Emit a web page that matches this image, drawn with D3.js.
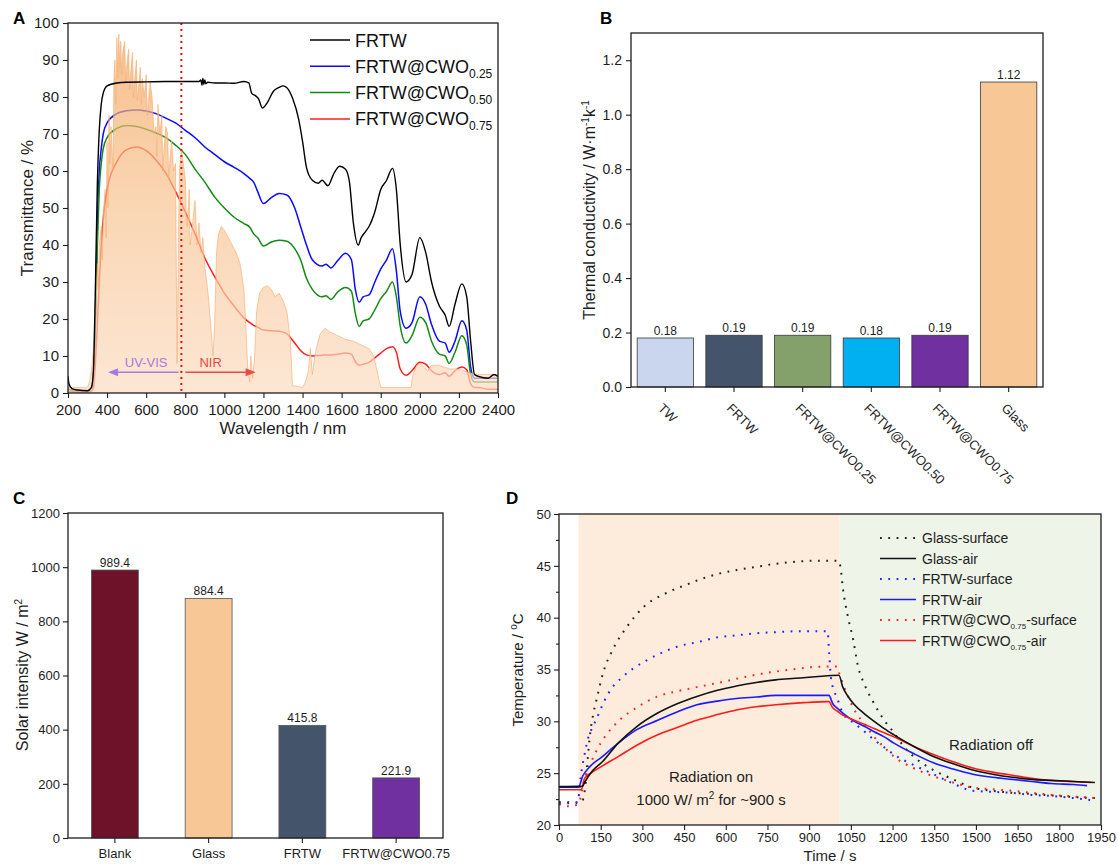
<!DOCTYPE html>
<html><head><meta charset="utf-8">
<script src="https://cdn.jsdelivr.net/npm/d3@7"></script>
<style>body{margin:0;background:#fff} svg{font-family:"Liberation Sans",Arial,Helvetica,sans-serif}</style>
</head><body><svg id="c" width="1118" height="864"></svg>
<script>
// ---------------- DATA ----------------
// Panel A: transmittance spectra [wavelength nm, T %]
const frtw = [[200,4.5],[205,2.5],[220,1.2],[250,0.8],[300,0.6],[320,1.5],[330,6],[340,28],[350,56],[360,71],[370,78],[380,81],[400,83],[450,83.8],[500,84],[600,84.1],[700,84.2],[800,84.2],[870,84.2],[880,84.6],[885,83.2],[890,85],[895,83.4],[900,84.6],[905,83.6],[915,84],[950,83.8],[1000,83.8],[1050,83.7],[1100,84.2],[1125,83.8],[1140,81],[1160,80.3],[1175,79.5],[1195,77],[1220,78.5],[1250,81.5],[1280,82.6],[1300,83],[1320,82.5],[1350,79.5],[1380,74],[1400,68],[1420,61],[1450,57.5],[1480,56.7],[1500,57.5],[1530,56],[1560,59.3],[1590,61.3],[1620,60.5],[1640,57],[1660,46],[1685,40],[1700,42],[1720,43.5],[1740,45],[1770,49],[1800,55],[1830,57.5],[1860,60.7],[1880,55],[1900,40],[1930,30],[1960,32],[2000,42],[2030,38],[2060,30],[2100,23.5],[2130,21],[2150,18],[2180,24],[2215,29.5],[2240,26],[2260,14],[2280,5],[2300,4.5],[2350,4],[2380,5],[2400,4.5]];
const cwo025 = [[200,1],[250,0.5],[300,0.5],[320,1.5],[330,5],[340,20],[350,45],[360,60],[370,66],[380,70],[400,73],[450,75.5],[500,76.3],[550,76.5],[600,76.2],[650,75.5],[700,74.3],[750,73],[800,71],[850,69],[900,66.5],[950,64.5],[1000,62.5],[1050,61],[1100,59.3],[1130,58],[1150,57],[1170,54.5],[1200,51.2],[1240,52.8],[1280,53.9],[1320,53.5],[1360,50],[1390,45],[1420,40],[1450,36],[1500,34.3],[1520,34.8],[1545,33.8],[1580,35.8],[1620,37.8],[1650,36],[1670,28],[1690,24.5],[1710,26],[1740,26.5],[1770,30],[1800,33.5],[1830,36],[1860,39],[1880,33],[1900,22],[1930,17.5],[1960,19],[2000,26],[2030,24],[2060,18.5],[2100,14],[2130,13.5],[2150,11],[2180,14],[2215,19.5],[2240,17],[2260,7],[2280,4],[2300,4],[2350,4],[2400,4]];
const cwo050 = [[200,1],[250,0.5],[300,0.5],[320,1.5],[330,5],[340,18],[350,40],[360,55],[370,62],[380,66],[400,69],[450,71.5],[500,72.3],[550,72],[600,71.3],[650,70.3],[700,69],[750,67],[800,64.5],[850,60.5],[900,57],[950,53],[1000,50],[1050,47.5],[1100,45.8],[1130,44.8],[1150,43],[1170,42],[1200,39.7],[1240,40.8],[1280,41.3],[1320,41],[1360,39],[1390,36],[1420,31],[1450,28],[1500,26],[1520,26.3],[1545,25.3],[1580,27.3],[1620,28.5],[1650,27.5],[1670,21.5],[1690,18],[1710,19.5],[1740,20],[1770,22.5],[1800,25.5],[1830,27.5],[1860,30],[1880,26],[1900,18],[1930,13.5],[1960,15.5],[2000,20.5],[2030,19],[2060,14],[2100,10.5],[2130,10],[2150,8],[2180,11],[2215,15.5],[2240,13],[2260,5],[2280,3],[2300,3],[2350,3],[2400,3]];
const cwo075 = [[200,0.5],[250,0.3],[300,0.3],[320,0.5],[330,1.5],[340,8],[350,18],[360,30],[370,40],[380,47],[400,55],[450,62.5],[500,65.8],[550,66.5],[600,65.5],[650,63],[700,59.5],[750,54.5],[800,49],[850,43],[900,36.5],[950,31.5],[1000,27],[1050,23.5],[1100,20.3],[1130,19],[1150,18.3],[1170,17.8],[1200,17],[1240,16.8],[1280,16.7],[1320,16],[1360,13.5],[1390,11.5],[1420,10.3],[1450,10],[1500,10.2],[1520,10.3],[1545,10.3],[1580,10.5],[1620,10.8],[1650,10.5],[1670,8.5],[1690,7.5],[1710,7.8],[1740,8.3],[1770,9.5],[1800,10.8],[1830,12],[1860,12.5],[1880,11],[1900,6.5],[1930,4.8],[1960,6],[2000,8.3],[2030,7.8],[2060,6],[2100,5],[2130,5.5],[2150,4.5],[2180,6],[2215,7],[2240,6.3],[2260,2.5],[2280,1.5],[2300,1.5],[2350,1],[2400,1]];
// Solar spectrum (scaled) [wavelength nm, value]
const solar = [[200,1.5],[290,1.5],[300,1.7],[310,3],[320,6],[330,12],[340,25],[350,35],[355,28],[360,40],[370,45],[375,36],[380,48],[390,55],[395,42],[400,68],[405,50],[410,75],[415,62],[420,72],[430,60],[435,85],[440,90],[445,78],[450,96],[455,85],[460,97],[465,88],[470,95],[475,86],[480,92],[490,95],[495,84],[500,88],[510,93],[515,82],[520,86],[530,92],[535,80],[540,84],[550,90],[555,79],[560,82],[570,88],[575,78],[580,85],[590,80],[600,86],[605,75],[610,78],[620,84],[630,80],[640,70],[650,72],[655,64],[660,78],[670,70],[680,75],[685,60],[690,65],[700,72],[710,70],[715,58],[720,62],[730,68],[740,60],[750,62],[758,8],[765,40],[770,60],[780,66],[790,62],[800,58],[805,48],[810,45],[820,55],[825,40],[830,42],[850,52],[860,40],[870,46],[880,38],[890,42],[900,34],[910,30],[920,25],[935,15],[942,10],[950,18],[960,38],[970,43],[985,45],[1000,44],[1020,42],[1040,40],[1060,38],[1080,35],[1100,28],[1110,18],[1120,6],[1130,3],[1135,10],[1145,4],[1155,10],[1165,22],[1180,27],[1200,28.5],[1220,29],[1240,28],[1260,26],[1280,27],[1300,25],[1320,22],[1338,14],[1348,2],[1400,1.5],[1415,3],[1430,6],[1440,12],[1450,5],[1460,9],[1470,12],[1490,16],[1515,17.5],[1540,16.5],[1580,15.5],[1620,14.5],[1660,14],[1700,13],[1740,12],[1765,10],[1785,5],[1800,1.5],[1955,1.5],[1965,5],[1985,7.5],[2000,8],[2020,7],[2040,6],[2060,7.5],[2100,7.5],[2150,6.5],[2200,6.5],[2250,5.5],[2300,5],[2400,5]];
const legendA = [["FRTW",""],["FRTW@CWO","0.25"],["FRTW@CWO","0.50"],["FRTW@CWO","0.75"]];
const xTicksA = [200,400,600,800,1000,1200,1400,1600,1800,2000,2200,2400];
const yTicksA = [0,10,20,30,40,50,60,70,80,90,100];
const uvVisBoundary = 780;

// Panel B: thermal conductivity
const bCats = ["TW","FRTW","FRTW@CWO0.25","FRTW@CWO0.50","FRTW@CWO0.75","Glass"];
const bVals = [0.18,0.19,0.19,0.18,0.19,1.12];
const yTicksB = [0.0,0.2,0.4,0.6,0.8,1.0,1.2];

// Panel C: solar intensity
const cCats = ["Blank","Glass","FRTW","FRTW@CWO0.75"];
const cVals = [989.4,884.4,415.8,221.9];
const yTicksC = [0,200,400,600,800,1000,1200];

// Panel D: temperature vs time [s, °C]
const glassSurface = [[0,22.2],[60,22.2],[80,22.2],[88,22.6],[94,23.6],[103,26.3],[112,28.8],[124,30.8],[136,32.2],[159,34.7],[195,37],[244,39.1],[303,41],[388,42.4],[460,43.2],[508,43.7],[569,44.2],[640,44.6],[710,44.9],[780,45.2],[853,45.4],[930,45.5],[1005,45.5],[1012,45],[1022,42.7],[1037,40.4],[1059,37.8],[1075,35.4],[1100,33.5],[1134,31.7],[1170,30.1],[1205,28.9],[1240,27.6],[1276,26.6],[1310,25.9],[1347,25.3],[1418,24.4],[1489,23.6],[1560,23.3],[1631,23.1],[1700,23],[1772,22.85],[1850,22.7],[1928,22.6]];
const glassAir = [[0,23.7],[85,23.75],[92,24.1],[120,25.2],[156,26.1],[213,27.9],[280,29.5],[355,30.8],[425,31.7],[496,32.4],[570,33],[638,33.4],[710,33.75],[780,34],[850,34.15],[922,34.3],[1007,34.45],[1021,33.3],[1040,32.4],[1063,31.6],[1100,30.7],[1134,30],[1170,29.3],[1205,28.7],[1275,27.6],[1347,26.6],[1418,25.9],[1489,25.3],[1560,24.9],[1631,24.6],[1700,24.4],[1772,24.3],[1850,24.2],[1928,24.1]];
const frtwSurface = [[0,22.1],[60,22.1],[70,22.6],[78,24.6],[92,26.8],[105,28.4],[120,29.4],[136,30.3],[160,31.8],[190,33.2],[230,34.3],[267,35.1],[310,35.8],[352,36.4],[425,37.2],[508,37.7],[570,38.1],[640,38.3],[710,38.5],[782,38.6],[870,38.7],[966,38.7],[972,36.5],[978,34.3],[985,33.3],[1000,32.3],[1021,30.8],[1063,29.8],[1100,29],[1134,28.2],[1170,27.5],[1205,26.8],[1275,25.8],[1347,24.9],[1418,24],[1489,23.3],[1560,23.2],[1631,23.1],[1700,22.9],[1772,22.8],[1850,22.6],[1914,22.4]];
const frtwAir = [[0,23.65],[70,23.65],[85,24.7],[110,25.6],[156,26.6],[213,27.9],[280,29.2],[355,30.1],[425,30.9],[496,31.6],[570,31.95],[638,32.2],[710,32.35],[780,32.5],[880,32.5],[971,32.5],[985,31.7],[1000,31.3],[1021,30.8],[1063,30],[1100,29.5],[1134,29],[1170,28.5],[1205,27.9],[1275,26.9],[1347,26],[1418,25.4],[1489,24.9],[1560,24.6],[1631,24.4],[1700,24.2],[1772,24],[1850,23.9],[1900,23.8]];
const cwoSurface = [[0,22.0],[30,21.8],[60,21.9],[71,22.1],[92,24.4],[110,25.7],[128,26.8],[150,27.9],[170,28.7],[213,30],[284,31.4],[355,32.4],[425,32.9],[496,33.3],[570,33.7],[638,34.1],[710,34.5],[780,34.8],[850,35.05],[922,35.25],[1000,35.3],[1010,34.5],[1035,32.7],[1063,31.1],[1100,29.7],[1134,28.5],[1170,27.5],[1205,26.6],[1275,25.5],[1347,24.7],[1418,24.1],[1489,23.6],[1560,23.45],[1631,23.3],[1700,23.1],[1772,22.9],[1850,22.75],[1930,22.6]];
const cwoAir = [[0,23.4],[80,23.4],[92,24.5],[120,25.1],[156,25.7],[213,26.6],[280,27.7],[355,28.7],[425,29.4],[496,30.1],[570,30.65],[638,31.1],[710,31.4],[780,31.6],[880,31.8],[971,31.9],[985,31.3],[1000,31],[1021,30.6],[1063,30.1],[1100,29.7],[1134,29.3],[1170,28.9],[1205,28.5],[1275,27.6],[1347,26.8],[1418,26.1],[1489,25.5],[1560,25.1],[1631,24.8],[1700,24.5],[1772,24.3],[1850,24.2],[1914,24.1]];
const radOnStart = 70, radOffStart = 1010, dEnd = 1950;
const xTicksD = [0,150,300,450,600,750,900,1050,1200,1350,1500,1650,1800,1950];
const yTicksD = [20,25,30,35,40,45,50];
const yMinorD = [22.5,27.5,32.5,37.5,42.5,47.5];
const legendD = [["Glass-surface",""],["Glass-air",""],["FRTW-surface",""],["FRTW-air",""],["FRTW@CWO","0.75","-surface"],["FRTW@CWO","0.75","-air"]];

// ---------------- STYLES ----------------
const INK = "#1e1e1e";
const barColorsB = ["#c9d6ee","#44546a","#84a06b","#00b0f0","#7030a0","#f8c796"];
const barColorsC = ["#6d1229","#f8c796","#44546a","#7030a0"];
const fmtInt = d3.format("d");

const svg = d3.select("#c");
const defs = svg.append("defs");

function styleAxis(g, fs){
  g.select(".domain").remove();
  g.selectAll("line").attr("stroke", INK).attr("stroke-width", 1.1);
  g.selectAll("text").attr("font-size", fs).attr("fill", INK);
}
function frame(g, x0, y0, x1, y1){
  g.append("rect").attr("x",x0).attr("y",y0).attr("width",x1-x0).attr("height",y1-y0)
    .attr("fill","none").attr("stroke",INK).attr("stroke-width",1.3);
}
function panelLabel(t,x,y){
  svg.append("text").attr("x",x).attr("y",y).attr("font-size",17).attr("font-weight","bold").attr("fill","#000").text(t);
}

// ================= PANEL A =================
(function(){
  const x = d3.scaleLinear().domain([200,2400]).range([68,498]);
  const y = d3.scaleLinear().domain([0,100]).range([393,23]);
  const g = svg.append("g");
  defs.append("clipPath").attr("id","clipA").append("rect").attr("x",68).attr("y",23).attr("width",430).attr("height",370);
  const grad = defs.append("linearGradient").attr("id","solarGrad").attr("gradientUnits","userSpaceOnUse")
    .attr("x1",0).attr("y1",y(97)).attr("x2",0).attr("y2",y(0));
  grad.append("stop").attr("offset","0").attr("stop-color","#f3a45c");
  grad.append("stop").attr("offset","0.45").attr("stop-color","#f7c390");
  grad.append("stop").attr("offset","1").attr("stop-color","#fcdcc2");

  const plot = g.append("g").attr("clip-path","url(#clipA)");
  const line = d3.line().x(d=>x(d[0])).y(d=>y(d[1])).curve(d3.curveMonotoneX);
  [[cwo025,"#0a0aff"],[cwo050,"#138a13"],[cwo075,"#ff1c1c"]].forEach(([d,c])=>{
    plot.append("path").datum(d).attr("d",line).attr("fill","none").attr("stroke",c).attr("stroke-width",1.5);
  });
  const area = d3.area().x(d=>x(d[0])).y0(y(0)).y1(d=>y(d[1])).curve(d3.curveLinear);
  plot.append("path").datum(solar).attr("d",area).attr("fill","url(#solarGrad)").attr("fill-opacity",0.7);
  plot.append("path").datum(solar).attr("d",d3.line().x(d=>x(d[0])).y(d=>y(d[1]))).attr("fill","none")
    .attr("stroke","#f4ad70").attr("stroke-width",0.8).attr("opacity",0.8);
  plot.append("path").datum(frtw).attr("d",line).attr("fill","none").attr("stroke","#000").attr("stroke-width",1.4);

  // boundary line
  g.append("line").attr("x1",x(uvVisBoundary)).attr("x2",x(uvVisBoundary)).attr("y1",y(100)).attr("y2",y(0))
    .attr("stroke","#f01010").attr("stroke-width",2).attr("stroke-dasharray","2,4");
  // arrows
  const ay = y(5.6);
  const purple = "#a77ae0", nir = "#ea4a45";
  g.append("line").attr("x1",x(765)).attr("x2",x(420)).attr("y1",ay).attr("y2",ay).attr("stroke",purple).attr("stroke-width",1.4);
  g.append("path").attr("d",`M${x(405)},${ay} l10,-4 l0,8 z`).attr("fill",purple);
  g.append("text").attr("x",x(600)).attr("y",ay-5).attr("text-anchor","middle").attr("font-size",13).attr("fill",purple).text("UV-VIS");
  g.append("line").attr("x1",x(800)).attr("x2",x(1140)).attr("y1",ay).attr("y2",ay).attr("stroke",nir).attr("stroke-width",1.4);
  g.append("path").attr("d",`M${x(1160)},${ay} l-10,-4 l0,8 z`).attr("fill",nir);
  g.append("text").attr("x",x(930)).attr("y",ay-5).attr("text-anchor","middle").attr("font-size",13).attr("fill",nir).text("NIR");

  // axes
  const gl = g.append("g").attr("transform","translate(68,0)").call(d3.axisLeft(y).tickValues(yTicksA).tickFormat(fmtInt).tickSize(5).tickPadding(4));
  styleAxis(gl,15);
  const gb = g.append("g").attr("transform","translate(0,393)").call(d3.axisBottom(x).tickValues(xTicksA).tickFormat(fmtInt).tickSize(5).tickPadding(6));
  styleAxis(gb,15);
  frame(g,68,23,498,393);
  g.append("text").attr("transform","translate(33,208) rotate(-90)").attr("text-anchor","middle").attr("font-size",17).attr("fill",INK).text("Transmittance / %");
  g.append("text").attr("x",283).attr("y",434).attr("text-anchor","middle").attr("font-size",17).attr("fill",INK).text("Wavelength / nm");

  // legend
  const lc = ["#000","#0a0aff","#138a13","#ff1c1c"];
  legendA.forEach((d,i)=>{
    const ly = 40 + i*26.3;
    g.append("line").attr("x1",310).attr("x2",350).attr("y1",ly).attr("y2",ly).attr("stroke",lc[i]).attr("stroke-width",1.5);
    const t = g.append("text").attr("x",355).attr("y",ly+6.5).attr("font-size",18).attr("fill","#111");
    t.append("tspan").text(d[0]);
    if(d[1]) t.append("tspan").attr("font-size",12).attr("dy",5).text(d[1]);
  });
})();
panelLabel("A",13,24);

// ================= PANEL B =================
(function(){
  const x = d3.scaleBand().domain(bCats).range([631,1043]).paddingInner(0.18).paddingOuter(0.09);
  const y = d3.scaleLinear().domain([0,1.3]).range([387,33]);
  const g = svg.append("g");
  g.selectAll("rect.bar").data(bCats).join("rect").attr("class","bar")
    .attr("x",d=>x(d)).attr("width",x.bandwidth())
    .attr("y",(d,i)=>y(bVals[i])).attr("height",(d,i)=>y(0)-y(bVals[i]))
    .attr("fill",(d,i)=>barColorsB[i]).attr("stroke","#3a3a3a").attr("stroke-width",0.8);
  g.selectAll("text.val").data(bCats).join("text").attr("class","val")
    .attr("x",d=>x(d)+x.bandwidth()/2).attr("y",(d,i)=>y(bVals[i])-3).attr("text-anchor","middle")
    .attr("font-size",12).attr("fill",INK).text((d,i)=>d3.format(".2f")(bVals[i]));
  const gl = g.append("g").attr("transform","translate(631,0)").call(d3.axisLeft(y).tickValues(yTicksB).tickFormat(d3.format(".1f")).tickSize(5).tickPadding(4));
  styleAxis(gl,14);
  const gb = g.append("g").attr("transform","translate(0,387)").call(d3.axisBottom(x).tickSize(5).tickFormat(""));
  styleAxis(gb,13);
  g.selectAll("text.xl").data(bCats).join("text").attr("class","xl")
    .attr("transform",d=>`translate(${x(d)+x.bandwidth()/2-8},409) rotate(45)`)
    .attr("font-size",13).attr("fill",INK).text(d=>d);
  frame(g,631,33,1043,387);
  const t = g.append("text").attr("transform","translate(595,210) rotate(-90)").attr("text-anchor","middle").attr("font-size",16).attr("fill",INK);
  t.append("tspan").text("Thermal conductivity / W·m");
  t.append("tspan").attr("font-size",10).attr("dy",-6).text("-1");
  t.append("tspan").attr("dy",6).text("k");
  t.append("tspan").attr("font-size",10).attr("dy",-6).text("-1");
})();
panelLabel("B",600,24);

// ================= PANEL C =================
(function(){
  const x = d3.scaleBand().domain(cCats).range([68,443]).paddingInner(0.5).paddingOuter(0.25);
  const y = d3.scaleLinear().domain([0,1200]).range([838,513]);
  const g = svg.append("g");
  g.selectAll("rect.bar").data(cCats).join("rect").attr("class","bar")
    .attr("x",d=>x(d)).attr("width",x.bandwidth())
    .attr("y",(d,i)=>y(cVals[i])).attr("height",(d,i)=>y(0)-y(cVals[i]))
    .attr("fill",(d,i)=>barColorsC[i]).attr("stroke","#555").attr("stroke-width",0.8);
  g.selectAll("text.val").data(cCats).join("text").attr("class","val")
    .attr("x",d=>x(d)+x.bandwidth()/2).attr("y",(d,i)=>y(cVals[i])-3).attr("text-anchor","middle")
    .attr("font-size",12).attr("fill",INK).text((d,i)=>d3.format(".1f")(cVals[i]));
  const gl = g.append("g").attr("transform","translate(68,0)").call(d3.axisLeft(y).tickValues(yTicksC).tickFormat(fmtInt).tickSize(5).tickPadding(3));
  styleAxis(gl,13);
  const gb = g.append("g").attr("transform","translate(0,838)").call(d3.axisBottom(x).tickSize(5).tickPadding(6));
  styleAxis(gb,13);
  frame(g,68,513,443,838);
  const t = g.append("text").attr("transform","translate(28,675) rotate(-90)").attr("text-anchor","middle").attr("font-size",16).attr("fill",INK);
  t.append("tspan").text("Solar intensity W / m");
  t.append("tspan").attr("font-size",10).attr("dy",-6).text("2");
})();
panelLabel("C",13,504);

// ================= PANEL D =================
(function(){
  const x = d3.scaleLinear().domain([0,1950]).range([559,1101]);
  const y = d3.scaleLinear().domain([20,50]).range([825,514]);
  const g = svg.append("g");
  g.append("rect").attr("x",x(radOnStart)).attr("y",y(50)).attr("width",x(radOffStart)-x(radOnStart)).attr("height",y(20)-y(50)).attr("fill","#fdecdc");
  g.append("rect").attr("x",x(radOffStart)).attr("y",y(50)).attr("width",x(dEnd)-x(radOffStart)).attr("height",y(20)-y(50)).attr("fill","#eef4e8");
  const line = d3.line().x(d=>x(d[0])).y(d=>y(d[1])).curve(d3.curveMonotoneX);
  const series = [
    [glassSurface,"#222",true],[frtwSurface,"#2222ff",true],[cwoSurface,"#ff2222",true],
    [frtwAir,"#1a1aff",false],[cwoAir,"#ff1a1a",false],[glassAir,"#111",false]
  ];
  series.forEach(([d,c,dot])=>{
    const p = g.append("path").datum(d).attr("d",line).attr("fill","none").attr("stroke",c)
      .attr("stroke-width",dot?2:1.6);
    if(dot) p.attr("stroke-dasharray","1.8,6.5");
  });
  g.append("text").attr("x",711).attr("y",782).attr("text-anchor","middle").attr("font-size",15).attr("fill",INK).text("Radiation on");
  const t2 = g.append("text").attr("x",711).attr("y",805).attr("text-anchor","middle").attr("font-size",15).attr("fill",INK);
  t2.append("tspan").text("1000 W/ m");
  t2.append("tspan").attr("font-size",10).attr("dy",-6).text("2");
  t2.append("tspan").attr("dy",6).text(" for ~900 s");
  g.append("text").attr("x",991).attr("y",750).attr("text-anchor","middle").attr("font-size",15).attr("fill",INK).text("Radiation off");

  const gl = g.append("g").attr("transform","translate(559,0)").call(d3.axisLeft(y).tickValues(yTicksD).tickFormat(fmtInt).tickSize(5).tickPadding(3));
  styleAxis(gl,13);
  const gm = g.append("g").attr("transform","translate(559,0)").call(d3.axisLeft(y).tickValues(yMinorD).tickSize(3).tickFormat(""));
  styleAxis(gm,13);
  const gb = g.append("g").attr("transform","translate(0,825)").call(d3.axisBottom(x).tickValues(xTicksD).tickFormat(fmtInt).tickSize(5).tickPadding(3));
  styleAxis(gb,13);
  frame(g,559,514,1101,825);
  const t = g.append("text").attr("transform","translate(523,670) rotate(-90)").attr("text-anchor","middle").attr("font-size",15).attr("fill",INK);
  t.append("tspan").text("Temperature / ");
  t.append("tspan").attr("font-size",10).attr("dy",-6).text("o");
  t.append("tspan").attr("dy",6).text("C");
  g.append("text").attr("x",830).attr("y",861).attr("text-anchor","middle").attr("font-size",15).attr("fill",INK).text("Time / s");

  const lcol = ["#222","#111","#2222ff","#1a1aff","#ff2222","#ff1a1a"];
  legendD.forEach((d,i)=>{
    const ly = 538 + i*20.5;
    const ln = g.append("line").attr("x1",880).attr("x2",916).attr("y1",ly).attr("y2",ly).attr("stroke",lcol[i]);
    if(i%2===0) ln.attr("stroke-width",2).attr("stroke-dasharray","1.8,6.5"); else ln.attr("stroke-width",1.6);
    const t = g.append("text").attr("x",922).attr("y",ly+5).attr("font-size",14).attr("fill",INK);
    t.append("tspan").text(d[0]);
    if(d[1]){ t.append("tspan").attr("font-size",8).attr("dy",4).text(d[1]); t.append("tspan").attr("dy",-4).text(d[2]); }
  });
})();
panelLabel("D",506,504);
</script></body></html>
